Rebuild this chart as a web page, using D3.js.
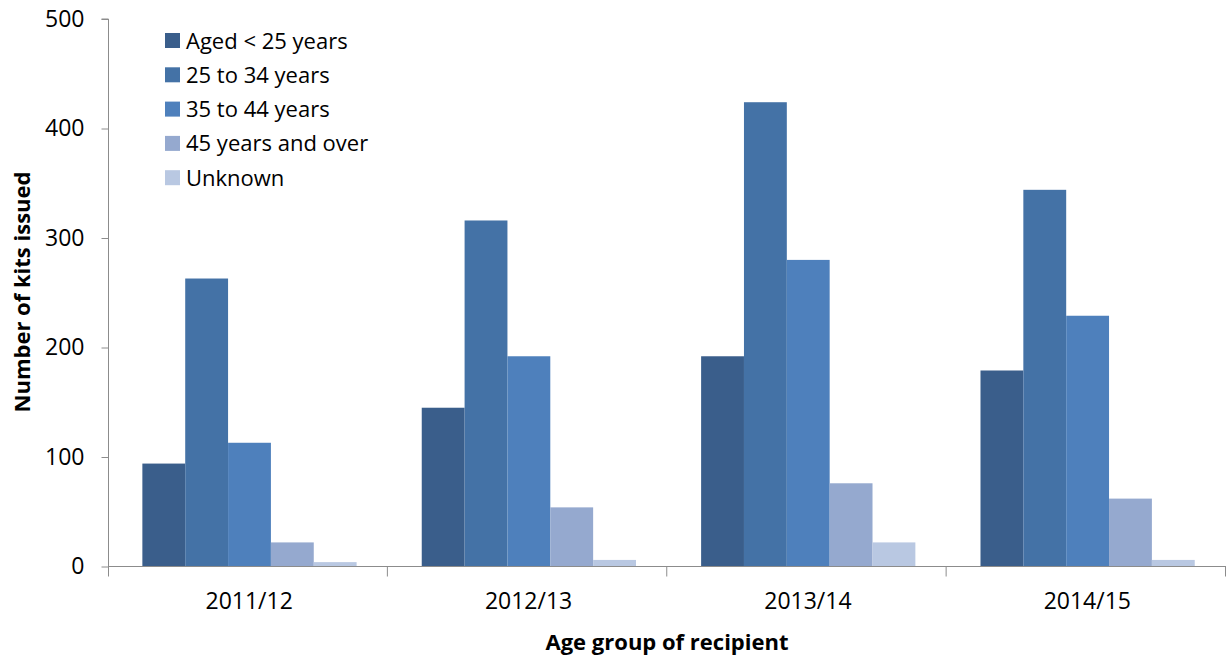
<!DOCTYPE html>
<html>
<head>
<meta charset="utf-8">
<script src="https://cdn.jsdelivr.net/npm/d3@7"></script>
<style>
  html, body { margin: 0; padding: 0; background: #fff; }
  svg { display: block; }
  text { font-family: "Open Sans", "Liberation Sans", sans-serif; fill: #000; }
</style>
</head>
<body>
<svg id="chart" width="1226" height="662"></svg>
<script>
// Naloxone kits issued per year, by age group of recipient
const years = ["2011/12", "2012/13", "2013/14", "2014/15"];
const seriesNames = ["Aged < 25 years", "25 to 34 years", "35 to 44 years", "45 years and over", "Unknown"];
const under25   = [94, 145, 192, 179];
const age25to34 = [263, 316, 424, 344];
const age35to44 = [113, 192, 280, 229];
const age45plus = [22, 54, 76, 62];
const unknown   = [4, 6, 22, 6];
const yTicks = [0, 100, 200, 300, 400, 500];
const seriesColors = ["#3a5e8b", "#4472a6", "#4e80bc", "#95a9cf", "#b9c8e2"];

const seriesValues = [under25, age25to34, age35to44, age45plus, unknown];
const rows = years.map((yr, i) => ({
  year: yr,
  values: seriesNames.map((s, j) => ({ series: s, value: seriesValues[j][i] }))
}));

const svg = d3.select("#chart");
const plotLeft = 108.5, plotRight = 1226, plotTop = 19, plotBottom = 566.5;

const x = d3.scaleBand().domain(years).range([plotLeft, plotRight]).paddingInner(0).paddingOuter(0);
const xInner = d3.scaleBand().domain(seriesNames).range([0, x.bandwidth()])
  .paddingOuter(0.76).paddingInner(0).align(0.52);
const y = d3.scaleLinear().domain([0, 500]).range([plotBottom, plotTop]);
const color = d3.scaleOrdinal().domain(seriesNames).range(seriesColors);

// Bars
const groups = svg.append("g").selectAll("g")
  .data(rows).join("g")
  .attr("transform", d => `translate(${x(d.year)},0)`);
groups.selectAll("rect")
  .data(d => d.values).join("rect")
  .attr("x", d => xInner(d.series))
  .attr("width", xInner.bandwidth())
  .attr("y", d => y(d.value))
  .attr("height", d => y(0) - y(d.value))
  .attr("fill", d => color(d.series));

// Y axis
const yAxis = svg.append("g")
  .attr("transform", `translate(${plotLeft},0)`)
  .call(d3.axisLeft(y).tickValues(yTicks).tickSize(7).tickPadding(17));
yAxis.select(".domain").attr("stroke", "#8c8c8c").attr("d", `M-7,${plotTop}H0V${plotBottom + 10}`);
yAxis.selectAll(".tick line").attr("stroke", "#8c8c8c");
yAxis.selectAll(".tick text").style("font-size", "23px").attr("fill", "#000");

// X axis: baseline, category boundary ticks and labels
const xAxis = svg.append("g").attr("transform", `translate(0,${plotBottom})`);
xAxis.append("line")
  .attr("x1", plotLeft).attr("x2", plotRight)
  .attr("stroke", "#8c8c8c");
const bounds = years.map(d => x(d)).concat([x(years[years.length - 1]) + x.bandwidth()]);
xAxis.selectAll("line.bound")
  .data(bounds.slice(1)).join("line")
  .attr("class", "bound")
  .attr("x1", d => d - 0.5).attr("x2", d => d - 0.5)
  .attr("y1", 0).attr("y2", 10)
  .attr("stroke", "#8c8c8c");
xAxis.selectAll("text.cat")
  .data(years).join("text")
  .attr("class", "cat")
  .attr("x", d => x(d) + x.bandwidth() / 2 + 1)
  .attr("y", 42)
  .attr("text-anchor", "middle")
  .style("font-size", "23px")
  .text(d => d);

// Axis titles
svg.append("text")
  .attr("x", 667).attr("y", 650)
  .attr("text-anchor", "middle")
  .style("font-size", "22px").style("font-weight", "bold")
  .text("Age group of recipient");
svg.append("text")
  .attr("transform", "translate(30,292) rotate(-90)")
  .attr("text-anchor", "middle")
  .style("font-size", "22px").style("font-weight", "bold")
  .text("Number of kits issued");

// Legend
const legend = svg.append("g").attr("transform", "translate(165,33)");
const item = legend.selectAll("g")
  .data(seriesNames).join("g")
  .attr("transform", (d, i) => `translate(0,${i * 34.3})`);
item.append("rect")
  .attr("width", 15).attr("height", 15)
  .attr("fill", d => color(d));
item.append("text")
  .attr("x", 21).attr("y", 15.5)
  .style("font-size", "22px")
  .text(d => d);
</script>
</body>
</html>
